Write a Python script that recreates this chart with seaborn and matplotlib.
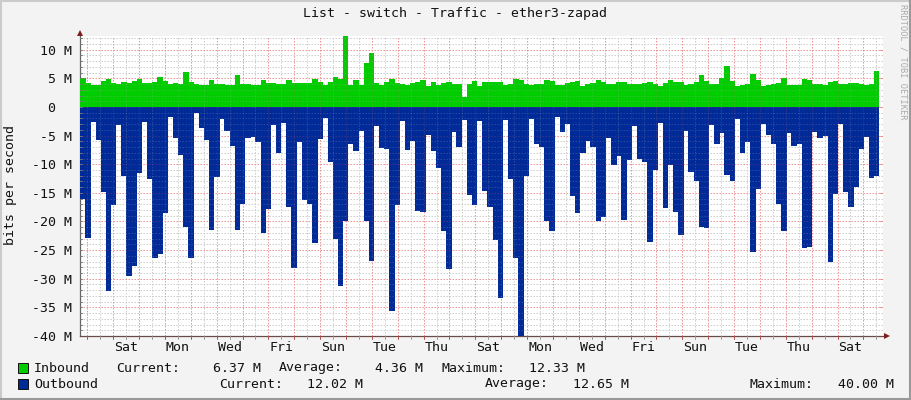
import numpy as np
import matplotlib
matplotlib.use("Agg")
import matplotlib.pyplot as plt
from matplotlib.lines import Line2D
from matplotlib.patches import Rectangle
import seaborn as sns

inbound = [5.07,4.2,3.9,3.9,4.55,4.9,4.2,4.0,4.37,4.2,4.55,4.9,4.2,4.2,4.37,5.24,4.55,4.0,4.2,4.0,6.1,4.37,4.0,3.85,3.85,4.7,4.0,4.0,3.85,3.85,5.6,4.0,4.0,3.85,3.85,4.7,4.2,4.2,4.0,4.0,4.7,4.2,4.2,
 4.2,4.2,4.9,4.37,3.85,4.37,5.24,4.9,12.33,3.85,4.7,3.85,7.7,9.4,4.2,3.85,4.37,4.9,4.2,4.0,3.85,4.2,4.37,4.7,3.67,4.37,3.85,4.2,4.37,3.95,4.0,1.75,4.0,4.5,3.67,4.37,4.37,4.37,4.37,3.85,4.0,4.9,4.7,4.0,3.85,4.0,4.0,4.7,4.5,3.85,3.85,4.2,4.37,4.5,3.67,4.0,4.2,4.7,
 4.4,3.95,4.07,4.3,4.4,3.95,4.0,4.0,4.25,4.4,4.07,3.7,4.25,4.7,4.4,4.4,3.9,4.0,4.4,5.6,4.5,3.95,4.07,5.1,7.2,4.5,3.67,3.85,3.95,5.76,4.7,3.7,3.85,4.0,4.25,5.1,3.85,3.85,3.85,4.9,4.7,3.95,4.0,3.85,4.4,4.6,3.95,4.0,4.2,4.2,4.0,3.85,4.0,6.37]

outbound = [16.07,22.8,2.6,5.76,14.85,32.1,17.2,3.1,12.0,29.6,27.7,11.5,2.6,12.6,26.3,25.7,18.6,1.75,5.36,8.4,20.9,26.3,1.05,3.67,5.76,21.5,12.2,2.1,4.2,6.8,21.5,16.9,5.36,5.24,6.2,22.0,17.8,3.1,8.0,2.8,17.4,28.1,6.1,16.2,16.9,23.7,5.6,1.9,9.55,23.1,31.2,20.0,
 6.5,7.6,4.2,20.0,26.9,3.3,7.1,7.3,35.6,17.2,2.45,7.5,5.9,18.1,18.3,4.9,7.7,10.65,21.6,28.3,4.4,7.0,2.3,15.3,17.1,2.45,14.7,17.4,23.3,33.3,2.3,12.6,26.3,40.0,12.05,2.1,6.5,7.0,19.9,21.7,1.75,4.4,3.0,15.5,18.5,8.0,5.9,7.0,20.0,19.2,5.4,
 10.1,8.6,19.7,9.25,3.3,9.1,9.6,23.6,11.0,2.8,17.6,10.1,18.3,22.4,4.2,11.3,12.9,21.0,21.1,3.1,6.5,4.5,11.9,12.9,2.1,8.0,6.1,25.3,14.3,3.0,4.9,6.5,16.9,21.7,4.5,6.8,6.5,24.6,24.5,4.4,5.4,5.1,27.1,15.2,3.0,14.85,17.5,14.0,7.3,5.2,12.4,12.02]

day_labels = ["Sat","Mon","Wed","Fri","Sun","Tue","Thu","Sat","Mon","Wed","Fri","Sun","Tue","Thu","Sat"]
y_major = [10,5,0,-5,-10,-15,-20,-25,-30,-35,-40]
y_labels = ["10 M","5 M","0\u00a0\u00a0","-5 M","-10 M","-15 M","-20 M","-25 M","-30 M","-35 M","-40 M"]

W, H = 911, 400
PX_DAY = 25.87
X0 = 87.3
PX_STEP = 5.155
STEP = PX_STEP / PX_DAY
BG = "#F3F3F3"
GREEN = "#00CC00"
BLUE = "#002A97"
MONO = "DejaVu Sans Mono"

sns.set_style("white")
plt.rcParams["font.family"] = [MONO]
fig = plt.figure(figsize=(W/100, H/100), dpi=100, facecolor=BG)
L, R, T, B = 80, 883, 36, 336
ax = fig.add_axes([L/W, 1-B/H, (R-L)/W, (B-T)/H], facecolor="white")

def px2fig(x, y):
    return x/W, 1-y/H

t_in = (80.1 + PX_STEP/2 - X0)/PX_DAY + STEP*np.arange(len(inbound))
t_out = (80.1 + PX_STEP/2 - X0)/PX_DAY + STEP*np.arange(len(outbound))
sns.barplot(x=t_in, y=np.array(inbound), native_scale=True, width=1, color=GREEN, saturation=1, linewidth=0, ax=ax, zorder=3)
sns.barplot(x=t_out, y=-np.array(outbound), native_scale=True, width=1, color=BLUE, saturation=1, linewidth=0, ax=ax, zorder=3)
for p in ax.patches:
    c = p.get_x() + p.get_width()/2
    p.set_x(c - STEP*0.5)
    p.set_width(STEP*1.06)
    p.set_antialiased(False)
    p.set_linewidth(0)

ax.set_xlim((L-X0)/PX_DAY, (R-X0)/PX_DAY)
ax.set_ylim(-40, 12.4)
ax.set_xlabel(""); ax.set_ylabel("")

dots = (0, (1.5, 1.5))
xmax = (R-X0)/PX_DAY
xtip = (L-X0)/PX_DAY
RED_UNDER, GRAY_UNDER = "#F2AAAA", "#D8D8D8"
RED_OVER, GRAY_OVER = "#E06060", "#B8B8B8"
for d in np.arange(0, 31, 0.5):
    major = abs(d - round(d)) < 1e-6
    if d < xmax:
        ax.axvline(d, color=RED_UNDER if major else GRAY_UNDER, lw=0.72, ls=dots, zorder=2 if major else 1)
        ax.axvline(d, color=RED_OVER if major else GRAY_OVER, alpha=0.22, lw=0.72, ls=dots, zorder=5)
for v in range(-40, 13):
    major = v % 5 == 0
    ax.axhline(v, color=RED_UNDER if major else GRAY_UNDER, lw=0.72, ls=dots, zorder=2 if major else 1)
    ax.axhline(v, color=RED_OVER if major else GRAY_OVER, alpha=0.22, lw=0.72, ls=dots, zorder=5)

ax.set_yticks(y_major)
ax.set_yticklabels(y_labels, fontsize=9.5, color="#111111")
ax.set_xticks([1.5 + 2*k for k in range(len(day_labels))])
ax.set_xticklabels(day_labels, fontsize=9.5, color="#111111")
ax.tick_params(axis="y", length=0, pad=6)
ax.tick_params(axis="x", length=0, pad=3.5)
for s in ["top", "right"]:
    ax.spines[s].set_visible(False)
ax.spines["left"].set_color("#666666"); ax.spines["left"].set_linewidth(0.9)
ax.spines["bottom"].set_color("#6A4A4A"); ax.spines["bottom"].set_linewidth(0.9)

# tick marks on the axes
for d in np.arange(0, xmax, 0.5):
    col = "#B05050" if abs(d-round(d)) < 1e-6 else "#999999"
    ax.plot([d, d], [-40, -40.55], color=col, lw=0.7, zorder=6, clip_on=False)
for v in range(-40, 13):
    ax.plot([xtip, xtip + 2/PX_DAY], [v, v], color="#777777", lw=0.7, zorder=6)
    if v % 5 == 0:
        ax.plot([xmax - 3/PX_DAY, xmax], [v, v], color="#E98A8A", lw=0.7, zorder=6)

# axis arrows
ax.plot([1.005], [0], transform=ax.transAxes, marker=">", ms=4.5, color="#7F1D1D", clip_on=False, zorder=7, mew=0)
ax.plot([0], [1.01], transform=ax.transAxes, marker="^", ms=4.5, color="#7F1D1D", clip_on=False, zorder=7, mew=0)

# texts
def ptext(x, y, s, ha="left", **kw):
    fx, fy = px2fig(x, y)
    kw.setdefault("fontsize", 9.5)
    kw.setdefault("color", "#111111")
    return fig.text(fx, fy, s, ha=ha, va="center", family=MONO, **kw)

ptext(455, 14, "List - switch - Traffic - ether3-zapad", ha="center")
ptext(11, 185, "bits per second", ha="center", rotation=90)
ptext(903, 62, "RRDTOOL / TOBI OETIKER", ha="center", rotation=270, fontsize=6.2, color="#ABABAB")

row1, row2 = 368, 384
for x, s, r in [(34, "Inbound", row1), (116, "Current:", row1), (213, "6.37 M", row1), (279, "Average:", row1),
                (375, "4.36 M", row1), (441, "Maximum:", row1), (529, "12.33 M", row1),
                (34, "Outbound", row2), (219, "Current:", row2), (307, "12.02 M", row2), (485, "Average:", row2),
                (573, "12.65 M", row2), (749, "Maximum:", row2), (838, "40.00 M", row2)]:
    ptext(x, r, s)

for y, c in [(363, GREEN), (379, BLUE)]:
    fx, fy = px2fig(17.5, y+10)
    fig.add_artist(Rectangle((fx, fy), 10/W, 10/H, transform=fig.transFigure, facecolor=c, edgecolor="#111111", lw=0.7))

# raised border
for (x0, y0, x1, y1, c) in [(1, 0, 1, 400, "#CBCBCB"), (0, 1, 911, 1, "#CBCBCB"),
                             (910, 0, 910, 400, "#999999"), (0, 399, 911, 399, "#999999")]:
    a, b = px2fig(x0, y0); e, f = px2fig(x1, y1)
    fig.add_artist(Line2D([a, e], [b, f], transform=fig.transFigure, color=c, lw=1.5))

fig.savefig("out.png", dpi=100, facecolor=BG)
